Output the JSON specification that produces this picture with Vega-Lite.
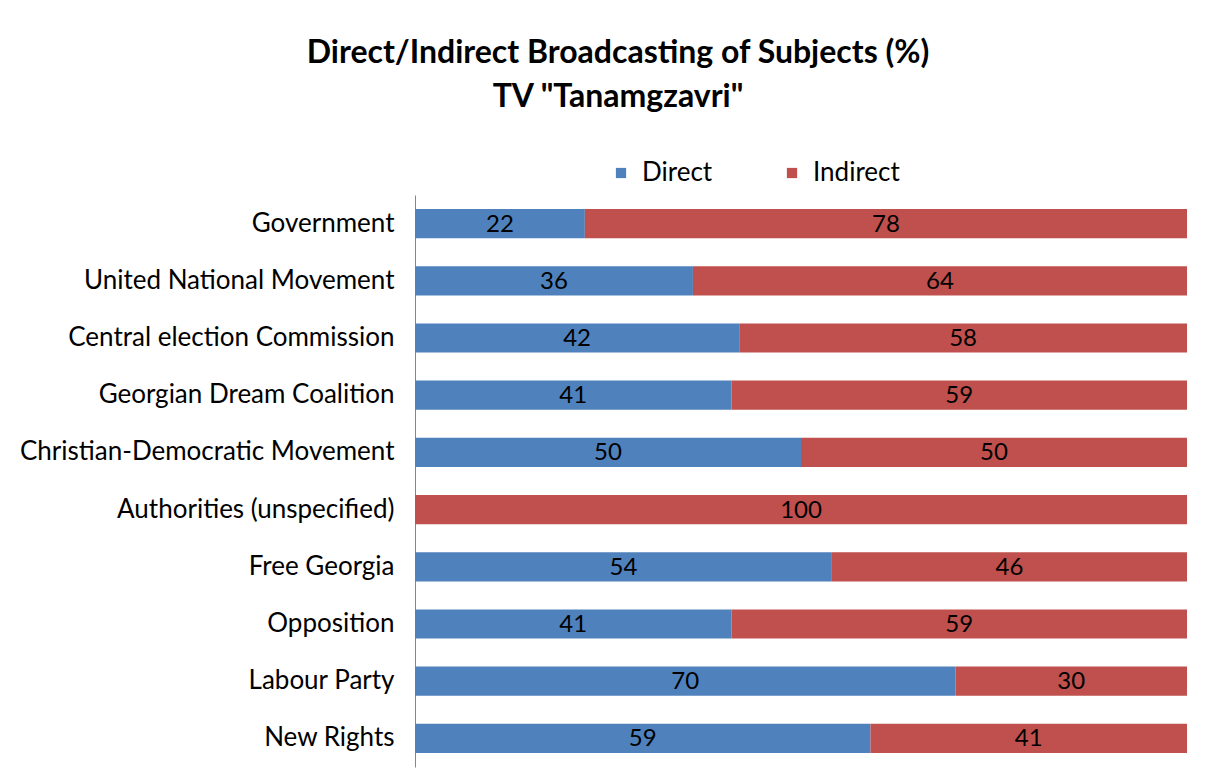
{
  "$schema": "https://vega.github.io/schema/vega-lite/v6.json",
  "width": 772,
  "height": 572,
  "autosize": {"type": "none"},
  "padding": {"left": 415, "top": 195, "right": 34, "bottom": 12},
  "background": "white",
  "title": {
    "text": ["Direct/Indirect Broadcasting of Subjects (%)", "TV \"Tanamgzavri\""],
    "font": "Lato",
    "fontSize": 32,
    "fontWeight": "bold",
    "color": "#000000",
    "anchor": "middle",
    "frame": "group",
    "dx": -183,
    "offset": 46,
    "lineHeight": 44
  },
  "data": {
    "values": [
      {"category": "Government", "type": "Direct", "order": 1, "value": 22},
      {"category": "Government", "type": "Indirect", "order": 2, "value": 78},
      {"category": "United National Movement", "type": "Direct", "order": 1, "value": 36},
      {"category": "United National Movement", "type": "Indirect", "order": 2, "value": 64},
      {"category": "Central election Commission", "type": "Direct", "order": 1, "value": 42},
      {"category": "Central election Commission", "type": "Indirect", "order": 2, "value": 58},
      {"category": "Georgian Dream Coalition", "type": "Direct", "order": 1, "value": 41},
      {"category": "Georgian Dream Coalition", "type": "Indirect", "order": 2, "value": 59},
      {"category": "Christian-Democratic Movement", "type": "Direct", "order": 1, "value": 50},
      {"category": "Christian-Democratic Movement", "type": "Indirect", "order": 2, "value": 50},
      {"category": "Authorities (unspecified)", "type": "Direct", "order": 1, "value": 0},
      {"category": "Authorities (unspecified)", "type": "Indirect", "order": 2, "value": 100},
      {"category": "Free Georgia", "type": "Direct", "order": 1, "value": 54},
      {"category": "Free Georgia", "type": "Indirect", "order": 2, "value": 46},
      {"category": "Opposition", "type": "Direct", "order": 1, "value": 41},
      {"category": "Opposition", "type": "Indirect", "order": 2, "value": 59},
      {"category": "Labour Party", "type": "Direct", "order": 1, "value": 70},
      {"category": "Labour Party", "type": "Indirect", "order": 2, "value": 30},
      {"category": "New Rights", "type": "Direct", "order": 1, "value": 59},
      {"category": "New Rights", "type": "Indirect", "order": 2, "value": 41}
    ]
  },
  "encoding": {
    "y": {
      "field": "category",
      "type": "nominal",
      "sort": ["Government", "United National Movement", "Central election Commission", "Georgian Dream Coalition", "Christian-Democratic Movement", "Authorities (unspecified)", "Free Georgia", "Opposition", "Labour Party", "New Rights"],
      "scale": {"paddingInner": 0.49, "paddingOuter": 0.245},
      "axis": {
        "title": null,
        "ticks": false,
        "grid": false,
        "domainColor": "#868686",
        "domainWidth": 1,
        "labelFont": "Lato",
        "labelFontSize": 26,
        "labelColor": "#000000",
        "labelPadding": 21,
        "labelLimit": 500
      }
    },
    "order": {"field": "order", "type": "quantitative"}
  },
  "layer": [
    {
      "mark": {"type": "bar"},
      "encoding": {
        "x": {"field": "value", "type": "quantitative", "stack": "zero", "scale": {"domain": [0, 100], "nice": false}, "axis": null},
        "color": {
          "field": "type",
          "type": "nominal",
          "scale": {"domain": ["Direct", "Indirect"], "range": ["#4F81BD", "#C0504D"]},
          "legend": {
            "title": null,
            "orient": "none",
            "direction": "horizontal",
            "legendX": 193,
            "legendY": -35,
            "symbolType": "square",
            "symbolSize": 105,
            "symbolStrokeWidth": 0,
            "labelFont": "Lato",
            "labelFontSize": 26,
            "labelColor": "#000000",
            "labelOffset": 8,
            "columnPadding": 66
          }
        }
      }
    },
    {
      "transform": [{"filter": "datum.value > 0"}],
      "mark": {"type": "text", "font": "Lato", "fontSize": 24, "color": "#000000", "align": "center", "baseline": "middle", "dy": 1},
      "encoding": {
        "x": {"field": "value", "type": "quantitative", "stack": "zero", "bandPosition": 0.5},
        "text": {"field": "value", "type": "quantitative"}
      }
    }
  ],
  "config": {"view": {"stroke": null}}
}
